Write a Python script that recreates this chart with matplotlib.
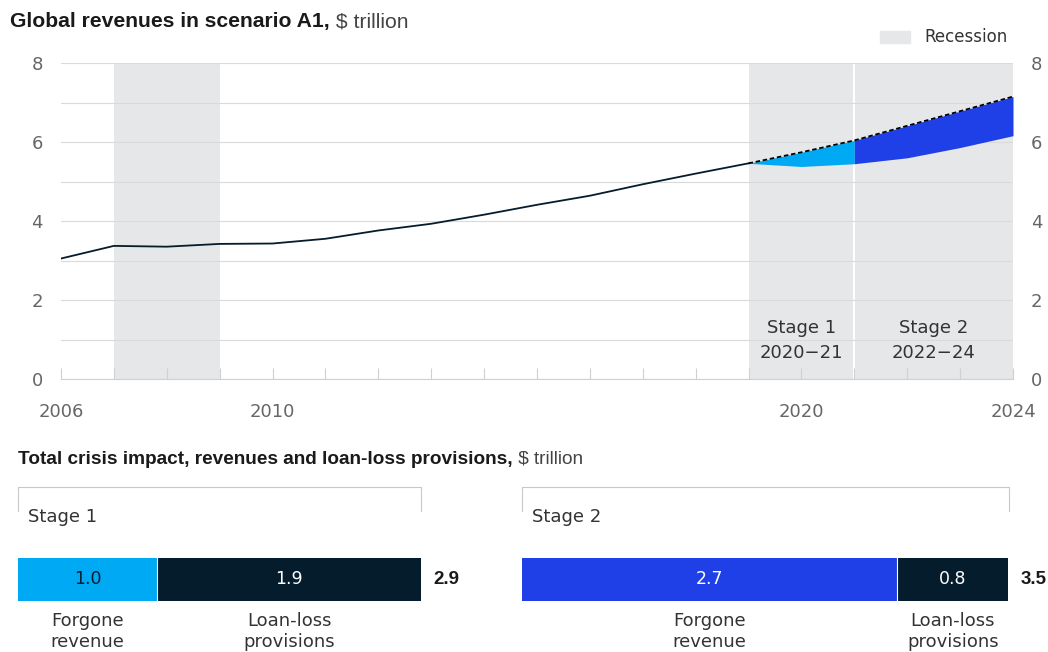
import numpy as np
import matplotlib.pyplot as plt
from matplotlib.patches import Rectangle

plt.rcParams['font.family'] = ['DejaVu Sans']
TITLE_FONT = ['Liberation Sans', 'DejaVu Sans']

# ---------------- data ----------------
years = [2006, 2007, 2008, 2009, 2010, 2011, 2012, 2013, 2014, 2015, 2016, 2017, 2018, 2019]
revenue = [3.05, 3.37, 3.35, 3.42, 3.43, 3.55, 3.76, 3.93, 4.16, 4.41, 4.64, 4.93, 5.20, 5.46]

proj_years = [2019, 2020, 2021, 2022, 2023, 2024]
precrisis = [5.46, 5.74, 6.04, 6.41, 6.78, 7.15]
crisis = [5.46, 5.38, 5.45, 5.60, 5.86, 6.16]

recessions = [(2007, 2009), (2019, 2021), (2021, 2024)]

stage_names = ["Stage 1", "Stage 2"]
stage_ranges = ["2020\u221221", "2022\u221224"]
forgone = [1.0, 2.7]
loanloss = [1.9, 0.8]
totals = [2.9, 3.5]

NAVY = "#051C2C"
LIGHTBLUE = "#00A9F4"
BLUE = "#1F40E6"
GREY = "#E6E7E9"
TXT = "#333333"
TICK = "#666666"

W, H = 1048, 652
fig = plt.figure(figsize=(W / 100, H / 100), dpi=100)


def px_axes(x0, y0, x1, y1):
    # axes placed by pixel box (top-left origin)
    return fig.add_axes([x0 / W, 1 - y1 / H, (x1 - x0) / W, (y1 - y0) / H])


# ================= TOP CHART =================
ax = px_axes(61, 63, 1013, 379)
for a, b in recessions:
    ax.axvspan(a, b, color=GREY, lw=0, zorder=0)
ax.axvline(2021, color="white", lw=1.5, zorder=1)

for v in range(0, 9):
    ax.axhline(v, color="#DADADA", lw=0.8, zorder=1)

ax.fill_between(proj_years[:3], crisis[:3], precrisis[:3], color=LIGHTBLUE, lw=0, zorder=2)
ax.fill_between(proj_years[2:], crisis[2:], precrisis[2:], color=BLUE, lw=0, zorder=2)
ax.plot(years, revenue, color=NAVY, lw=1.3, zorder=3)
ax.plot(proj_years, precrisis, color="black", lw=1.3, dashes=(2.5, 1.5), zorder=3)

ax.set_xlim(2006, 2024)
ax.set_ylim(0, 8)
ax.set_xticks(range(2006, 2025))
ax.set_xticklabels([str(y) if y in (2006, 2010, 2020, 2024) else "" for y in range(2006, 2025)])
ax.set_yticks([0, 2, 4, 6, 8])
ax.tick_params(axis="x", direction="in", length=8, color="#D0D0D0", width=0.8,
               labelsize=13, labelcolor=TICK, pad=17)
ax.tick_params(axis="y", length=0, labelsize=13, labelcolor=TICK, pad=13,
               labelright=True)
for s in ["top", "left", "right"]:
    ax.spines[s].set_visible(False)
ax.spines["bottom"].set_color("#D0D0D0")
ax.spines["bottom"].set_zorder(1)

for xc, name, rng in zip([2020, 2022.5], stage_names, stage_ranges):
    ax.text(xc, 1.29, name, ha="center", va="center", fontsize=13, color=TXT, zorder=4)
    ax.text(xc, 0.66, rng, ha="center", va="center", fontsize=13, color=TXT, zorder=4)

# title
t1 = fig.text(10 / W, 1 - 22 / H, "Global revenues in scenario A1,", fontsize=15.2,
              fontweight="bold", color="#1a1a1a", va="center", family=TITLE_FONT)
ax.annotate(" $ trillion", xy=(1, 0.5), xycoords=t1, va="center", fontsize=15.2,
            color="#444444", family=TITLE_FONT)

# legend
fig.add_artist(Rectangle((880 / W, 1 - 43 / H), 30 / W, 12 / H, color=GREY,
                         transform=fig.transFigure))
fig.text(924 / W, 1 - 37 / H, "Recession", fontsize=12, color=TXT, va="center")

# ================= BOTTOM BARS =================
t2 = fig.text(18 / W, 1 - 459 / H, "Total crisis impact, revenues and loan-loss provisions,",
              fontsize=13.7, fontweight="bold", color="#1a1a1a", va="center",
              family=TITLE_FONT)
ax.annotate(" $ trillion", xy=(1, 0.5), xycoords=t2, va="center", fontsize=13.7,
            color="#444444", family=TITLE_FONT)

PX_PER_UNIT = 139
boxes = [(18, 487, 601), (522, 487, 601)]
colors = [LIGHTBLUE, BLUE]
value_colors = [NAVY, "white"]

for i, (x0, y0, y1) in enumerate(boxes):
    total = totals[i]
    bx = px_axes(x0, y0, x0 + total * PX_PER_UNIT, y1)
    bx.set_xlim(0, total)
    bx.set_ylim(0, 1)
    bx.axis("off")

    bar_h = 43 / 114
    yc = bar_h / 2
    bx.barh(yc, forgone[i], height=bar_h, left=0, color=colors[i], lw=0)
    bx.barh(yc, loanloss[i], height=bar_h, left=forgone[i], color=NAVY, lw=0)
    bx.axvline(forgone[i], ymax=bar_h, color="white", lw=0.8)

    bx.text(forgone[i] / 2, yc, f"{forgone[i]:.1f}", ha="center", va="center",
            fontsize=12.5, color=value_colors[i])
    bx.text(forgone[i] + loanloss[i] / 2, yc, f"{loanloss[i]:.1f}", ha="center",
            va="center", fontsize=12.5, color="white")
    bx.text(total + 12 / PX_PER_UNIT, yc, f"{total:.1f}", ha="left", va="center",
            fontsize=13.5, fontweight="bold", color="#1a1a1a", clip_on=False,
            family=TITLE_FONT)

    bx.text(forgone[i] / 2, -0.095, "Forgone\nrevenue", ha="center", va="top",
            fontsize=13, color=TXT, linespacing=1.22, clip_on=False)
    bx.text(forgone[i] + loanloss[i] / 2, -0.095, "Loan-loss\nprovisions", ha="center",
            va="top", fontsize=13, color=TXT, linespacing=1.22, clip_on=False)

    # open box around stage heading
    bx.plot([0, 0, total, total], [0.79, 1, 1, 0.79], color="#C8C8C8", lw=0.8,
            clip_on=False)
    bx.text(10 / PX_PER_UNIT, 0.737, stage_names[i], ha="left", va="center",
            fontsize=13, color=TXT)

fig.savefig("out.png", dpi=100)
